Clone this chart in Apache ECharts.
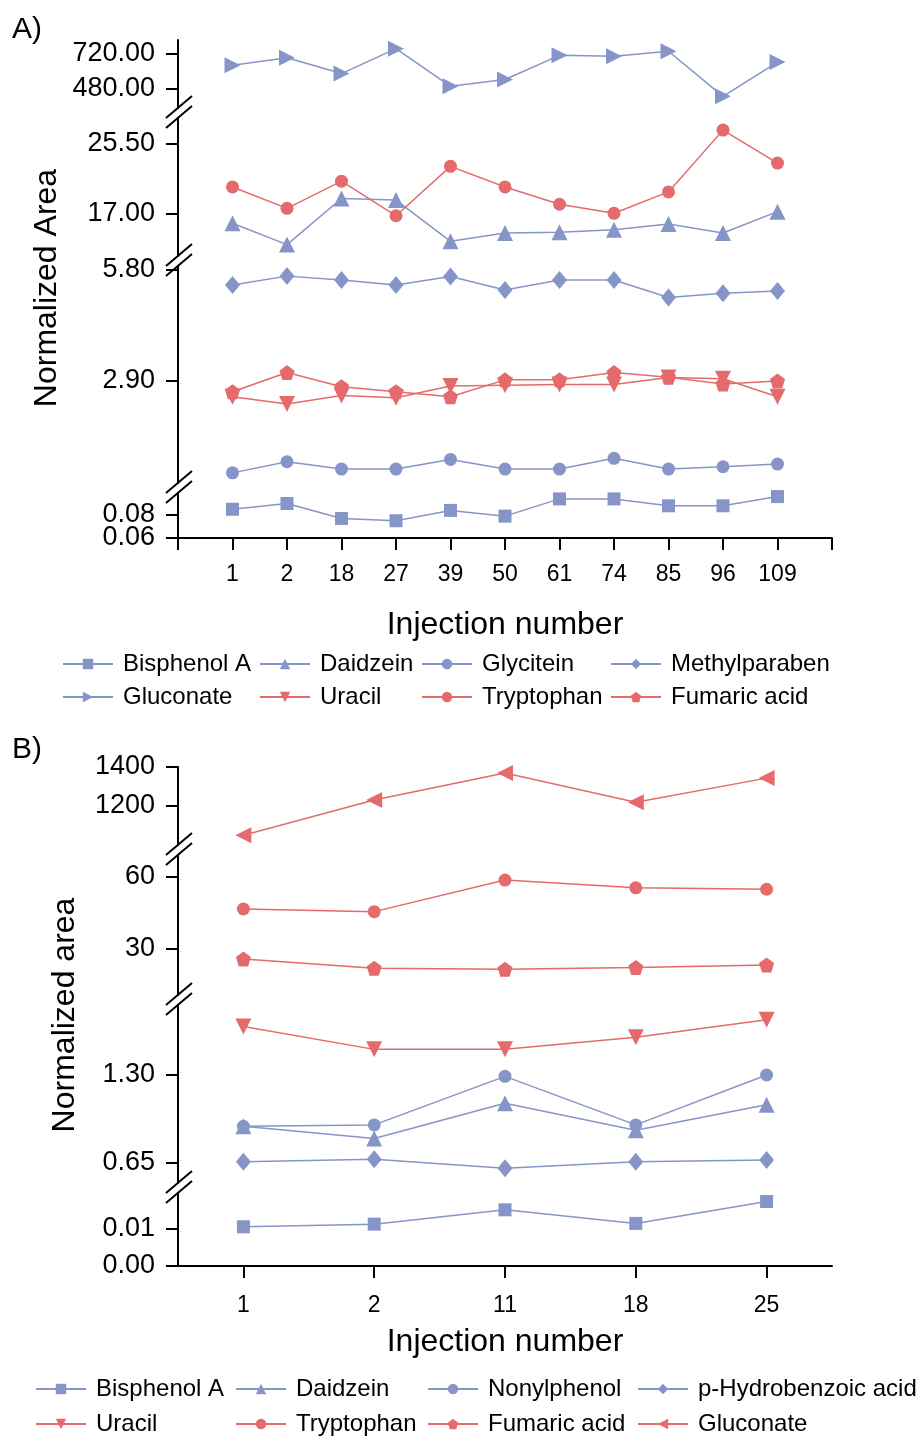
<!DOCTYPE html>
<html>
<head>
<meta charset="utf-8">
<title>Normalized area vs injection number</title>
<script src="https://cdn.jsdelivr.net/npm/echarts@6/dist/echarts.min.js"></script>
<style>
  html, body { margin: 0; padding: 0; background: #fff; }
  #wrap { position: relative; width: 919px; height: 1436px; }
  #chartA { position: absolute; left: 0; top: 0; width: 919px; height: 720px; }
  #chartB { position: absolute; left: 0; top: 720px; width: 919px; height: 716px; }
</style>
</head>
<body>
<div id="wrap"><div id="chartA"></div><div id="chartB"></div></div>
<script>
// ---------- panel A data
var injA = ['1', '2', '18', '27', '39', '50', '61', '74', '85', '96', '109'];
var bisA = [0.085, 0.090, 0.077, 0.075, 0.084, 0.079, 0.094, 0.094, 0.088, 0.088, 0.096];
var daidA = [15.8, 13.2, 18.8, 18.6, 13.6, 14.6, 14.7, 15.0, 15.7, 14.6, 17.2];
var glyA = [0.50, 0.79, 0.60, 0.60, 0.85, 0.60, 0.60, 0.88, 0.60, 0.66, 0.73];
var methA = [5.41, 5.64, 5.54, 5.41, 5.63, 5.28, 5.54, 5.54, 5.08, 5.19, 5.25];
var glucA = [638, 690, 581, 752, 494, 540, 706, 699, 734, 425, 660];
var uraA = [2.49, 2.30, 2.52, 2.46, 2.77, 2.79, 2.81, 2.81, 2.99, 2.96, 2.49];
var tryA = [20.2, 17.6, 20.9, 16.7, 22.7, 20.2, 18.1, 17.0, 19.6, 27.1, 23.1];
var fumA = [2.62, 3.12, 2.75, 2.62, 2.49, 2.93, 2.93, 3.12, 3.00, 2.82, 2.90];
// tick labels of each axis segment, top segment first
var ticksA = [[480, 720], [17, 25.5], [2.9, 5.8], [0.06, 0.08]];

// ---------- panel B data
var injB = ['1', '2', '11', '18', '25'];
var bisB = [0.0104, 0.0111, 0.0149, 0.0113, 0.0171];
var daidB = [0.92, 0.83, 1.09, 0.89, 1.08];
var nonB = [0.92, 0.93, 1.29, 0.93, 1.30];
var phbB = [0.657, 0.675, 0.608, 0.657, 0.670];
var uraB = [1.66, 1.49, 1.49, 1.58, 1.71];
var tryB = [46.6, 45.5, 58.6, 55.4, 54.8];
var fumB = [25.9, 22.0, 21.6, 22.3, 23.4];
var glucB = [1050, 1231, 1369, 1219, 1343];
var ticksB = [[1200, 1400], [30, 60], [0.65, 1.30], [0, 0.01]];

var FONT = '"Liberation Sans", Arial, sans-serif';
var BLUE = '#8595C8';
var RED = '#E46A6B';
var PENTAGON = 'path://M5,0L10,3.7L8.1,10L1.9,10L0,3.7Z';
var AXIS_X = 178;

// segment layout in px: [top, bottom, y of upper tick, y of lower tick]
function buildOption(cfg) {
    var grid = [], xAxis = [], yAxis = [], graphic = [], series = [], legend = [];
    var mainY = [];
    var n = cfg.segments.length;
    cfg.segments.forEach(function (s, i) {
        var lo = cfg.ticks[i][0], hi = cfg.ticks[i][1];
        var k = (hi - lo) / (s[3] - s[2]);
        var yMax = hi + (s[2] - s[0]) * k;
        var yMin = lo - (s[1] - s[3]) * k;
        var last = (i === n - 1);
        var dec = cfg.decimals[i];
        grid.push({left: AXIS_X, right: 87, top: s[0], height: s[1] - s[0], outerBoundsMode: 'none'});
        var xa = {
            gridIndex: i,
            show: last,
            axisLine: {show: true, onZero: false, lineStyle: {color: '#000', width: 2}},
            axisTick: {show: true, length: 12, lineStyle: {color: '#000', width: 2}},
            axisLabel: {fontSize: 23, color: '#000', margin: cfg.xLabelMargin, fontFamily: FONT},
            splitLine: {show: false},
            name: last ? 'Injection number' : '',
            nameLocation: 'middle',
            nameGap: cfg.xNameGap,
            nameTextStyle: {fontSize: 32, color: '#000', fontFamily: FONT}
        };
        if (cfg.valueX) {
            xa.type = 'value';
            xa.min = 0;
            xa.max = cfg.cats.length + 1;
            xa.interval = 1;
            xa.axisLabel.formatter = function (v) { return cfg.cats[v - 1] || ''; };
        } else {
            xa.type = 'category';
            xa.data = cfg.cats;
            xa.boundaryGap = true;
            xa.axisTick.alignWithLabel = true;
        }
        xAxis.push(xa);

        // main axis: line + ticks
        mainY.push(yAxis.length);
        yAxis.push({
            gridIndex: i, type: 'value', position: 'left', min: yMin, max: yMax,
            axisLine: {show: true, onZero: false, lineStyle: {color: '#000', width: 2}},
            axisTick: {show: true, length: 12, customValues: cfg.ticks[i], lineStyle: {color: '#000', width: 2}},
            axisLabel: {show: false},
            splitLine: {show: false}
        });
        // one label-only axis per tick so close labels are never dropped
        cfg.ticks[i].forEach(function (t) {
            yAxis.push({
                gridIndex: i, type: 'value', position: 'left', offset: 0, min: yMin, max: yMax,
                axisLine: {show: false, onZero: false},
                axisTick: {show: false},
                axisLabel: {
                    customValues: [t],
                    showMinLabel: true, showMaxLabel: true,
                    formatter: function (v) { return v.toFixed(dec); },
                    fontSize: cfg.yLabelSize, color: '#000', margin: 23, fontFamily: FONT
                },
                splitLine: {show: false}
            });
        });

        // break marks between this segment and the next one
        if (!last) {
            [s[1], cfg.segments[i + 1][0]].forEach(function (y) {
                graphic.push({
                    type: 'line', z: 100,
                    shape: {x1: AXIS_X - 12, y1: y + 10, x2: AXIS_X + 14, y2: y - 12},
                    style: {stroke: '#000', lineWidth: 2}
                });
            });
        }
    });

    cfg.series.forEach(function (sr) {
        series.push({
            name: sr.name,
            type: 'line',
            xAxisIndex: sr.seg,
            yAxisIndex: mainY[sr.seg],
            data: cfg.valueX ? sr.data.map(function (v, i) { return [i + 1, v]; }) : sr.data,
            symbol: sr.symbol,
            symbolSize: sr.size,
            symbolRotate: sr.rotate || 0,
            showAllSymbol: true,
            clip: false,
            lineStyle: {color: sr.color, width: 1.5},
            itemStyle: {color: sr.color}
        });
    });

    cfg.legendCols.forEach(function (c) {
        legend.push({
            orient: 'vertical',
            left: c[0],
            top: cfg.legendTop,
            padding: 0,
            itemGap: cfg.legendGap,
            itemWidth: 50,
            itemHeight: 13,
            selectedMode: false,
            data: c[1],
            textStyle: {fontSize: 24, color: '#000', fontFamily: FONT, padding: [0, 0, 0, 5]}
        });
    });

    graphic.push({
        type: 'text', x: cfg.yName[1], y: cfg.yName[2], rotation: Math.PI / 2,
        style: {text: cfg.yName[0], font: '32px ' + FONT, fill: '#000', align: 'center', verticalAlign: 'middle'}
    });
    graphic.push({
        type: 'text', x: 12, y: cfg.panelY,
        style: {text: cfg.panel, font: '30px ' + FONT, fill: '#000', align: 'left', verticalAlign: 'middle'}
    });

    return {
        animation: false,
        backgroundColor: '#fff',
        grid: grid,
        xAxis: xAxis,
        yAxis: yAxis,
        legend: legend,
        graphic: graphic,
        series: series
    };
}

var chartA = echarts.init(document.getElementById('chartA'));
chartA.setOption(buildOption({
    panel: 'A)', panelY: 30,
    yName: ['Normalized Area', 47, 288],
    cats: injA, valueX: true,
    ticks: ticksA, decimals: [2, 2, 2, 2], yLabelSize: 27,
    segments: [[40, 108, 53.3, 88.3], [118, 256, 143.3, 213.3], [266, 483, 270, 381], [493, 538, 515, 538]],
    xLabelMargin: 25, xNameGap: 71,
    legendTop: 652, legendGap: 9,
    legendCols: [[62, ['Bisphenol A', 'Gluconate']], [259, ['Daidzein', 'Uracil']],
                 [421, ['Glycitein', 'Tryptophan']], [610, ['Methylparaben', 'Fumaric acid']]],
    series: [
        {name: 'Bisphenol A', data: bisA, seg: 3, symbol: 'rect', size: 13, color: BLUE},
        {name: 'Daidzein', data: daidA, seg: 1, symbol: 'triangle', size: 16, color: BLUE},
        {name: 'Glycitein', data: glyA, seg: 2, symbol: 'circle', size: 13, color: BLUE},
        {name: 'Methylparaben', data: methA, seg: 2, symbol: 'diamond', size: [15, 18], color: BLUE},
        {name: 'Gluconate', data: glucA, seg: 0, symbol: 'triangle', rotate: -90, size: 16, color: BLUE},
        {name: 'Uracil', data: uraA, seg: 2, symbol: 'triangle', rotate: 180, size: 16, color: RED},
        {name: 'Tryptophan', data: tryA, seg: 1, symbol: 'circle', size: 13, color: RED},
        {name: 'Fumaric acid', data: fumA, seg: 2, symbol: PENTAGON, size: 15, color: RED}
    ]
}));

var chartB = echarts.init(document.getElementById('chartB'));
chartB.setOption(buildOption({
    panel: 'B)', panelY: 30,
    yName: ['Normalized area', 65, 295],
    cats: injB, valueX: false,
    ticks: ticksB, decimals: [0, 0, 2, 2], yLabelSize: 27,
    segments: [[47, 125, 47, 86], [135, 275, 156.7, 229], [285, 463, 355, 442.7], [473, 546, 508.3, 546]],
    xLabelMargin: 28, xNameGap: 60,
    legendTop: 657, legendGap: 11,
    legendCols: [[35, ['Bisphenol A', 'Uracil']], [235, ['Daidzein', 'Tryptophan']],
                 [427, ['Nonylphenol', 'Fumaric acid']], [637, ['p-Hydrobenzoic acid', 'Gluconate']]],
    series: [
        {name: 'Bisphenol A', data: bisB, seg: 3, symbol: 'rect', size: 13, color: BLUE},
        {name: 'Daidzein', data: daidB, seg: 2, symbol: 'triangle', size: 16, color: BLUE},
        {name: 'Nonylphenol', data: nonB, seg: 2, symbol: 'circle', size: 13, color: BLUE},
        {name: 'p-Hydrobenzoic acid', data: phbB, seg: 2, symbol: 'diamond', size: [15, 18], color: BLUE},
        {name: 'Uracil', data: uraB, seg: 2, symbol: 'triangle', rotate: 180, size: 16, color: RED},
        {name: 'Tryptophan', data: tryB, seg: 1, symbol: 'circle', size: 13, color: RED},
        {name: 'Fumaric acid', data: fumB, seg: 1, symbol: PENTAGON, size: 15, color: RED},
        {name: 'Gluconate', data: glucB, seg: 0, symbol: 'triangle', rotate: 90, size: 16, color: RED}
    ]
}));
</script>
</body>
</html>
